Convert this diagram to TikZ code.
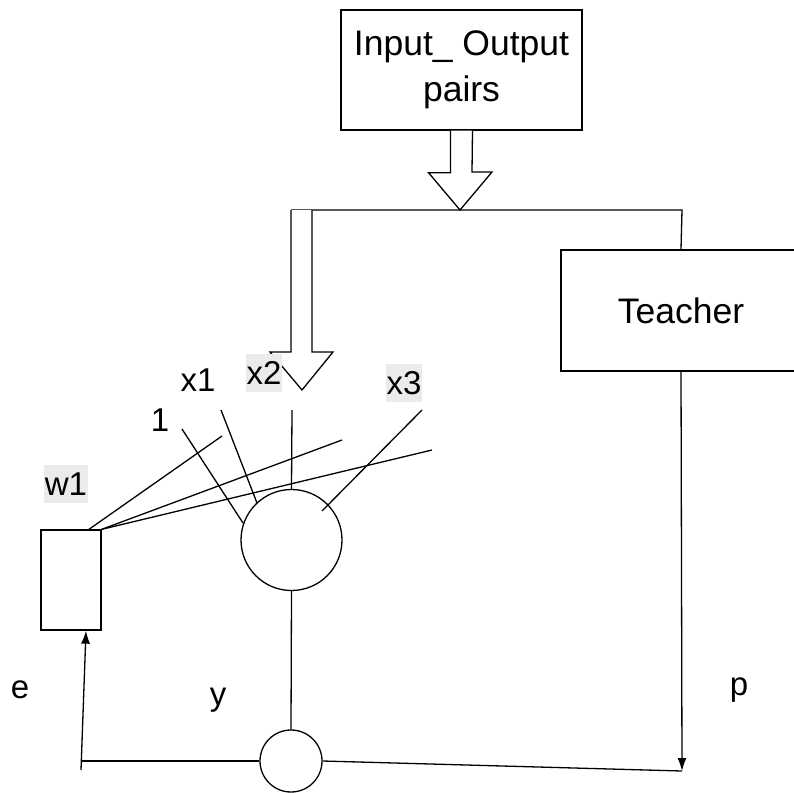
\documentclass[tikz,border=0pt]{standalone}
\usepackage{fontspec}
\setmainfont{Liberation Sans}
\usetikzlibrary{arrows.meta}
\definecolor{hlgray}{HTML}{EBEBEB}
\begin{document}
\begin{tikzpicture}[x=1pt,y=-1pt,line width=1.3pt,
  boxnode/.style={draw,fill=white,inner sep=0pt,align=center,font=\fontsize{35.5}{46}\selectfont},
  lbl/.style={inner sep=1pt,font=\fontsize{33}{36}\selectfont},
  hl/.style={lbl,fill=hlgray,inner xsep=1pt,minimum height=38pt},
  tip/.style={-{Latex[length=13pt,width=9pt]}}]
\useasboundingbox (0,0) rectangle (794,792);
\clip (0,0) rectangle (794,792);
% boxes
\node[boxnode,minimum width=241pt,minimum height=120pt] (io) at (461.5,70) {Input\_ Output\\pairs};
\node[boxnode,minimum width=240pt,minimum height=121pt] (teacher) at (681,310.5) {Teacher};
\node[draw,fill=white,inner sep=0pt,minimum width=60pt,minimum height=100pt] (w) at (71,580) {};
\node[draw,circle,inner sep=0pt,minimum size=101pt] (neuron) at (291.5,540) {};
\node[draw,circle,inner sep=0pt,minimum size=62pt] (sum) at (291,761) {};
% coordinates
\coordinate (jl) at (291,210);
\coordinate (jr) at (682,210);
\coordinate (pe) at (682,771);
\coordinate (el) at (81,761);
\coordinate (eb) at (81,770);
% hollow arrow from io
\draw[fill=white] ([xshift=-11pt]io.south) -- ++(0,42) -- ++(-22,0) -- (460,210) -- (492,172) -- (472,172) -- ([xshift=11pt]io.south);
% distribution line
\draw (jl) -- (jr) -- (teacher.north);
% hollow arrow down to the neuron
\draw[fill=white] (jl) -- (291,352) -- (270,352) -- (302,390) -- (333,352) -- (312,352) -- (312,210);
% teacher output
\draw[tip] (teacher.south) -- (pe);
\draw (sum.east) -- (pe);
% error feedback
\draw (sum.west) -- (el);
\draw[tip] (eb) -- ([xshift=15pt]w.south);
% neuron to comparator
\draw (neuron.south) -- (sum.north);
% input lines
\coordinate (i1a) at (182,429); \coordinate (i1b) at (243,523);
\coordinate (x1a) at (221,410); \coordinate (x1b) at (257,503);
\coordinate (x2a) at (292,410);
\coordinate (x3a) at (422,410); \coordinate (x3b) at (322,511);
\draw (i1a) -- (i1b);
\draw (x1a) -- (x1b);
\draw (x2a) -- (neuron.north);
\draw (x3a) -- (x3b);
% weight lines
\coordinate (wa) at (88,530);
\coordinate (w1e) at (222,436);
\coordinate (w2e) at (342,440);
\coordinate (w3e) at (432,450);
\draw (wa) -- (w1e);
\draw (w.north east) -- (w2e);
\draw (w.north east) -- (w3e);
% labels
\node[hl] (lw1) at (66,484) {w1};
\node[lbl] (lone) at (160,420) {1};
\node[lbl] (lx1) at (198,380) {x1};
\node[hl] (lx2) at (264,373) {x2};
\node[hl] (lx3) at (404,383) {x3};
\node[lbl] (le) at (20,690) {e};
\node[lbl] (ly) at (218,700) {y};
\node[lbl] (lp) at (739,690) {p};
\end{tikzpicture}
\end{document}
